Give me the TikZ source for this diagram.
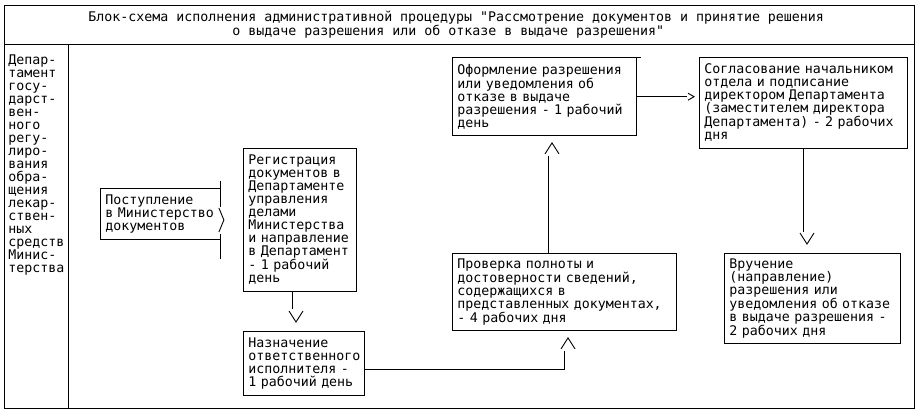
\documentclass[tikz,border=0pt]{standalone}
\usepackage{fontspec}
\newfontfamily\dmono{DejaVu Sans Mono}
\usetikzlibrary{calc}
\hyphenpenalty=10000
\exhyphenpenalty=10000
\begin{document}
\begin{tikzpicture}[x=1pt,y=-1pt,line width=0.9pt,
  every node/.style={font=\dmono\fontsize{13.28}{13}\selectfont},
  box/.style={draw, anchor=north west, align=left, inner xsep=5pt, inner ysep=2pt},
  chevdown/.pic={\draw (-3,0) -- (4,11) -- (11,0);},
  chevup/.pic={\draw (-3,11) -- (4,0) -- (11,11);},
  chevright/.pic={\draw (0,-3.5) -- (6,0) -- (0,3.5);}]
\useasboundingbox (0,0) rectangle (920,415);
% frame
\draw (4,5) rectangle (914,408);
\draw (4,44) -- (914,44);
\draw (68,44) -- (68,408);
% title
\node[anchor=west, align=left, inner sep=0pt, font=\dmono\fontsize{13.28}{14.4}\selectfont] (title) at (88,24.5)
 {Блок-схема исполнения административной процедуры "Рассмотрение документов и принятие решения\\\hspace*{144pt}о выдаче разрешения или об отказе в выдаче разрешения"};
% left column
\node[anchor=west, align=left, inner sep=0pt, text width=58pt] (dept) at (8,165)
 {Депар-\\тамент\\госу-\\дарст-\\вен-\\ного\\регу-\\лиро-\\вания\\обра-\\щения\\лекар-\\ствен-\\ных\\средств\\Минис-\\терства};
% boxes
\node[box, draw=none, text width=110pt, minimum height=51pt] (b1) at (100,188)
 {Поступление\\в~Министерство\\документов};
\node[box, text width=103pt, minimum height=143pt] (b2) at (243,148)
 {Регистрация\\документов в\\Департаменте\\управления\\делами\\Министерства\\и~направление\\в~Департамент\\- 1 рабочий\\день};
\node[box, text width=111pt, minimum height=64.5pt] (b3) at (243,330.5)
 {Назначение\\ответственного\\исполнителя -\\1~рабочий~день};
\node[box, text width=214pt, minimum height=77pt] (b4) at (452,253)
 {Проверка полноты и\\достоверности сведений,\\содержащихся в\\представленных документах,\\- 4 рабочих дня};
\node[box, text width=174pt, minimum height=78pt] (b5) at (452,57)
 {Оформление разрешения\\или уведомления об\\отказе в выдаче\\разрешения~-~1~рабочий\\день};
\node[box, text width=198pt, minimum height=91pt] (b6) at (699,57)
 {Согласование начальником\\отдела и подписание\\директором Департамента\\(заместителем директора\\Департамента)~-~2~рабочих\\дня};
\node[box, text width=166pt, minimum height=90pt] (b7) at (724,253)
 {Вручение\\(направление)\\разрешения или\\уведомления~об~отказе\\в~выдаче~разрешения~-\\2 рабочих дня};
% box 1 outline and its bar with chevron
\draw (b1.north east) -- (b1.north west) -- (b1.south west) -- (b1.south east);
\draw ($(b1.north east)+(0,-7)$) -- ++(0,26);
\draw ($(b1.north east)+(-2,20)$) -- ++(5,12) -- ++(-5,12);
\draw ($(b1.south east)+(0,-6)$) -- ++(0,25);
% box 5 top overshoot
\draw (b5.north east) -- ++(4,0);
% connector helpers
\coordinate (x23) at (292,0);
\coordinate (x34) at (564,0);
\coordinate (y34) at (0,369);
\coordinate (x45) at (548,0);
\coordinate (y56) at (0,96.7);
\coordinate (x67) at (803,0);
% 2 -> 3
\draw (b2.south -| x23) -- ($(b3.north -| x23)+(0,-22)$);
\pic at ($(b3.north -| x23)+(0,-19.5)$) {chevdown};
% 3 -> 4
\draw (b3.east |- y34) -| ($(b4.south -| x34)+(0,20)$);
\pic at ($(b4.south -| x34)+(0,7)$) {chevup};
% 4 -> 5
\draw (b4.north -| x45) -- ($(b5.south -| x45)+(0,20)$);
\pic at ($(b5.south -| x45)+(0,7)$) {chevup};
% 5 -> 6
\draw (b5.east |- y56) -- ($(b6.west |- y56)+(-12,0)$);
\pic at ($(b6.west |- y56)+(-11,0)$) {chevright};
% 6 -> 7
\draw (b6.south -| x67) -- ($(b7.north -| x67)+(0,-21)$);
\pic at ($(b7.north -| x67)+(0,-20)$) {chevdown};
\end{tikzpicture}
\end{document}
